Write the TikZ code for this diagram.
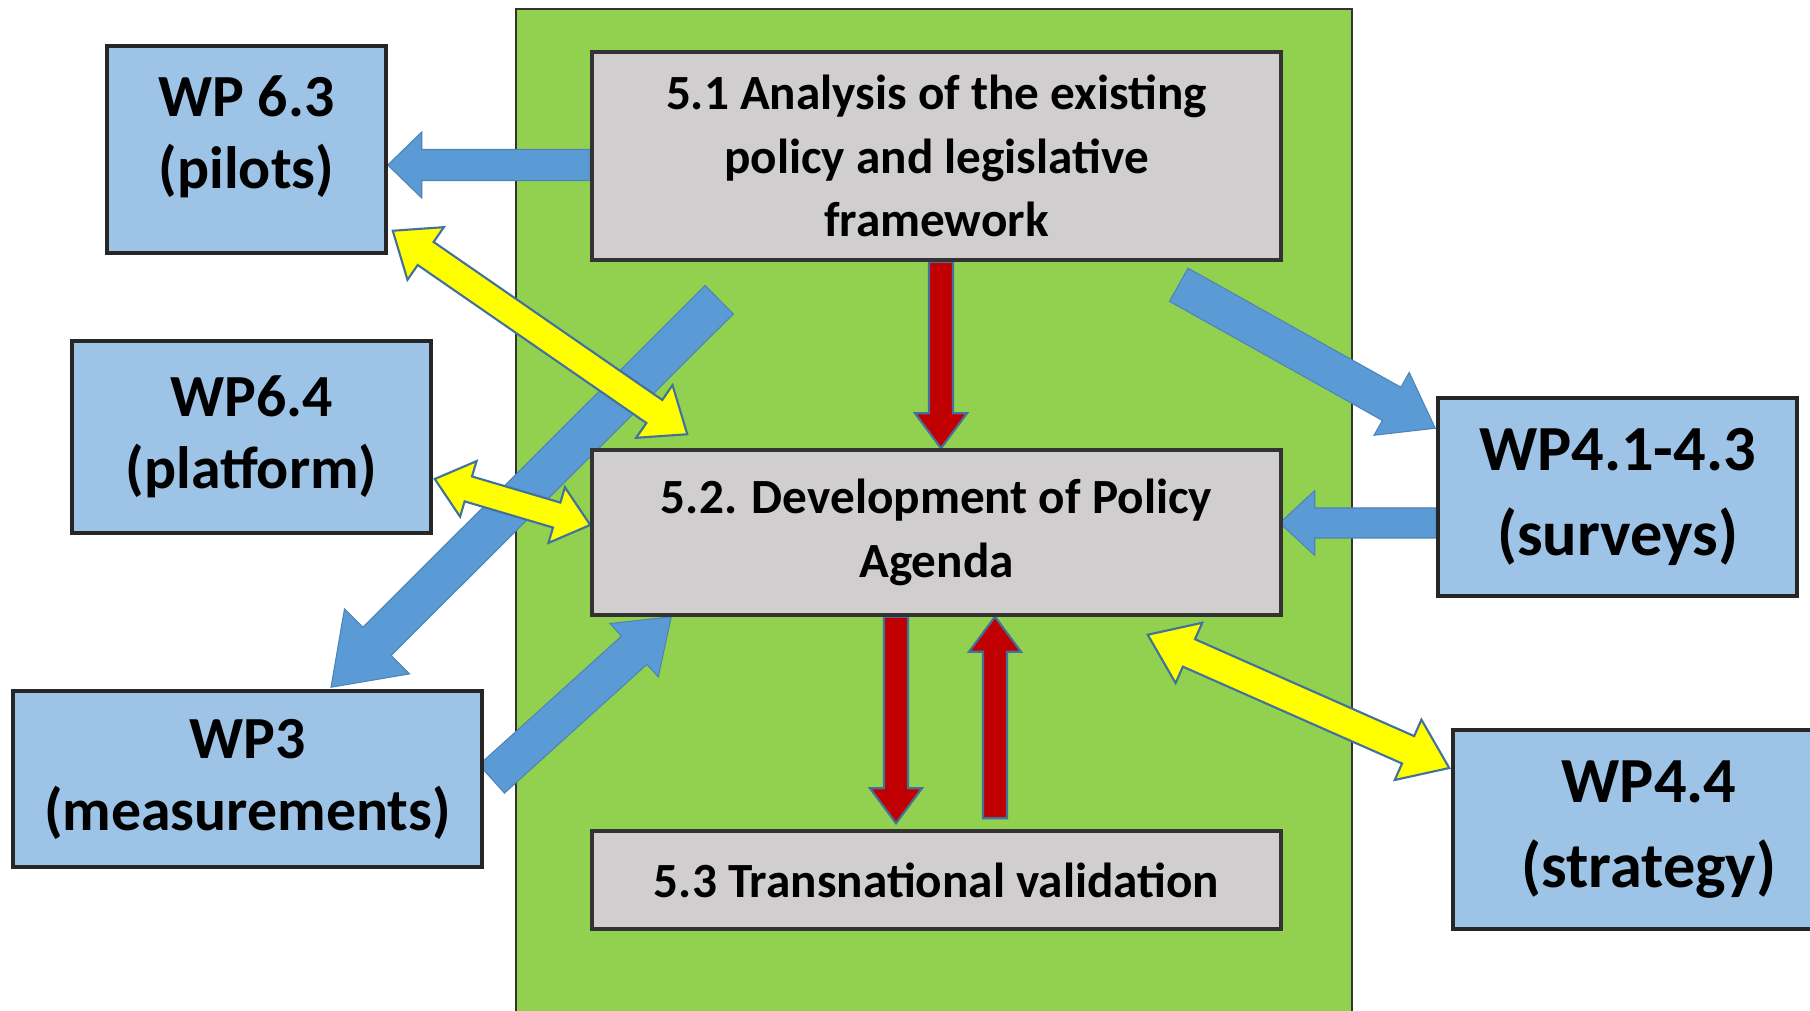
\documentclass[tikz,border=0pt]{standalone}
\usepackage{fontspec}
\setmainfont{Carlito}
\usetikzlibrary{calc}
\usetikzlibrary{backgrounds}
\definecolor{panelgreen}{HTML}{92D050}
\definecolor{taskgray}{HTML}{D0CECE}
\definecolor{wpblue}{HTML}{9DC3E6}
\definecolor{flowblue}{HTML}{5B9BD5}
\definecolor{linkyellow}{HTML}{FFFF00}
\definecolor{edgeblue}{HTML}{41719C}
\definecolor{flowred}{HTML}{C00000}
\tikzset{
task/.style = { rectangle, draw = black!80, line width = 1pt, fill = taskgray, align = center, minimum width = 68.9mm, font = \bfseries\fontsize{14}{18}\selectfont },
wp/.style = { rectangle, draw = black!85, line width = 1pt, fill = wpblue, align = center, font = \bfseries\fontsize{17}{20.5}\selectfont },
panel/.style = { rectangle, draw = black!80, line width = 0.8pt, fill = panelgreen },
}
\tikzset{
arrow shaft/.store in = \fatshaft,
arrow head/.store in = \fathead,
arrow neck/.store in = \fatneck,
arrow shaft = 1.5mm, arrow head = 3.3mm, arrow neck = 3.5mm,
one way/.style = { to path = {
        ($(\tikztostart)!\fatshaft!90:(\tikztotarget)$)
        -- ($(\tikztotarget)!\fatneck!(\tikztostart)!\fatshaft!-90:(\tikztostart)$)
        -- ($(\tikztotarget)!\fatneck!(\tikztostart)!\fathead!-90:(\tikztostart)$)
        -- (\tikztotarget)
        -- ($(\tikztotarget)!\fatneck!(\tikztostart)!\fathead!90:(\tikztostart)$)
        -- ($(\tikztotarget)!\fatneck!(\tikztostart)!\fatshaft!90:(\tikztostart)$)
        -- ($(\tikztostart)!\fatshaft!-90:(\tikztotarget)$)
        -- cycle }
    },
two way/.style = { to path = {
        (\tikztostart)
        -- ($(\tikztostart)!\fatneck!(\tikztotarget)!\fathead!90:(\tikztotarget)$)
        -- ($(\tikztostart)!\fatneck!(\tikztotarget)!\fatshaft!90:(\tikztotarget)$)
        -- ($(\tikztotarget)!\fatneck!(\tikztostart)!\fatshaft!-90:(\tikztostart)$)
        -- ($(\tikztotarget)!\fatneck!(\tikztostart)!\fathead!-90:(\tikztostart)$)
        -- (\tikztotarget)
        -- ($(\tikztotarget)!\fatneck!(\tikztostart)!\fathead!90:(\tikztostart)$)
        -- ($(\tikztotarget)!\fatneck!(\tikztostart)!\fatshaft!90:(\tikztostart)$)
        -- ($(\tikztostart)!\fatneck!(\tikztotarget)!\fatshaft!-90:(\tikztotarget)$)
        -- ($(\tikztostart)!\fatneck!(\tikztotarget)!\fathead!-90:(\tikztotarget)$)
        -- cycle }
    },
blue flow/.style = { one way, fill = flowblue, draw = flowblue!85!black, line width = 0.3pt },
red flow/.style = { one way, fill = flowred, draw = edgeblue, line width = 0.6pt, arrow shaft = 1.2mm, arrow head = 2.6mm, arrow neck = 3.5mm },
yellow link/.style = { two way, fill = linkyellow, draw = edgeblue, line width = 0.6pt },
}

\begin{document}
\begin{tikzpicture}
      \useasboundingbox (0, 0) rectangle (18.10, -10.11);
      % tasks of the work package
      \node[task, minimum height = 20.8mm] (n51) at (9.365, -1.56) {5.1 Analysis of the existing\\policy and legislative\\framework};
      \node[task, minimum height = 16.5mm] (n52) at (9.365, -5.325) {5.2. Development of Policy\\Agenda};
      \node[task, minimum height = 9.8mm] (n53) at (9.365, -8.80) {5.3 Transnational validation};
      % other work packages
      \node[wp, minimum width = 27.9mm, minimum height = 20.7mm, text depth = 10pt] (wp63) at (2.465, -1.495) {WP 6.3\\(pilots)};
      \node[wp, minimum width = 35.9mm, minimum height = 19.2mm] (wp64) at (2.515, -4.37) {WP6.4\\(platform)};
      \node[wp, minimum width = 46.9mm, minimum height = 17.6mm] (wp3) at (2.475, -7.79) {WP3\\(measurements)};
      \node[wp, minimum width = 35.9mm, minimum height = 19.8mm, font = \bfseries\fontsize{18.3}{24}\selectfont] (wp41) at (16.175, -4.97) {WP4.1-4.3\\(surveys)};
      \node[wp, minimum width = 39.2mm, minimum height = 19.9mm, font = \bfseries\fontsize{18.3}{24}\selectfont] (wp44) at (16.49, -8.295) {WP4.4\\(strategy)};
      % arrow ends
      \coordinate (b1s) at ($(n51.west) + (0, -0.09)$);
      \coordinate (b1e) at ($(wp63.east) + (0, -0.155)$);
      \coordinate (y2s) at ($(wp63.south east) + (0.05, 0.24)$);
      \coordinate (y2e) at ($(n52.north west) + (0.97, 0.14)$);
      \coordinate (b3s) at ($(n51.south west) + (1.29, -0.38)$);
      \coordinate (b3e) at ($(wp3.north) + (0.835, 0.02)$);
      \coordinate (y4s) at ($(wp64.east) + (0.02, -0.42)$);
      \coordinate (y4e) at ($(n52.west) + (0, 0.075)$);
      \coordinate (b5s) at ($(wp3.east) + (0.08, 0)$);
      \coordinate (b5e) at ($(n52.south west) + (0.81, 0)$);
      \coordinate (r6s) at ($(n51.south) + (0.045, 0)$);
      \coordinate (r6e) at ($(n52.north) + (0.045, 0)$);
      \coordinate (r7s) at ($(n52.south) + (-0.405, 0)$);
      \coordinate (r7e) at ($(n53.north) + (-0.405, 0.06)$);
      \coordinate (r8s) at ($(n53.north) + (0.585, 0.11)$);
      \coordinate (r8e) at ($(n52.south) + (0.585, 0)$);
      \coordinate (b9s) at ($(n51.south east) + (-1.04, -0.23)$);
      \coordinate (b9e) at ($(wp41.north west) + (-0.01, -0.32)$);
      \coordinate (b10s) at ($(wp41.west) + (0, -0.26)$);
      \coordinate (b10e) at ($(n52.east) + (-0.03, 0.095)$);
      \coordinate (y11s) at ($(n52.south east) + (-1.35, -0.18)$);
      \coordinate (y11e) at ($(wp44.west) + (-0.02, 0.615)$);
      \begin{scope}[on background layer]
      \node[panel, minimum width = 83.6mm, minimum height = 101.5mm] (wp5) at (9.34, -5.165) {};
      \path[blue flow, arrow shaft = 1.55mm, arrow head = 3.3mm, arrow neck = 3.4mm] (b1s) to (b1e);
      \path[blue flow, arrow shaft = 2.0mm, arrow head = 4.6mm, arrow neck = 6.5mm] (b3s) to (b3e);
      \path[blue flow, arrow shaft = 1.9mm, arrow head = 3.6mm, arrow neck = 5.0mm] (b5s) to (b5e);
      \path[blue flow, arrow shaft = 1.9mm, arrow head = 3.6mm, arrow neck = 5.0mm] (b9s) to (b9e);
      \path[blue flow, arrow shaft = 1.5mm, arrow head = 3.25mm, arrow neck = 3.5mm] (b10s) to (b10e);
      \path[red flow] (r6s) to (r6e);
      \path[red flow] (r7s) to (r7e);
      \path[red flow] (r8s) to (r8e);
      \path[yellow link, arrow shaft = 1.4mm, arrow head = 3.2mm, arrow neck = 4.0mm] (y2s) to (y2e);
      \path[yellow link, arrow shaft = 1.3mm, arrow head = 2.9mm, arrow neck = 3.5mm] (y4s) to (y4e);
      \path[yellow link, arrow shaft = 1.5mm, arrow head = 3.3mm, arrow neck = 4.5mm] (y11s) to (y11e);
      \end{scope}
\end{tikzpicture}
\end{document}
